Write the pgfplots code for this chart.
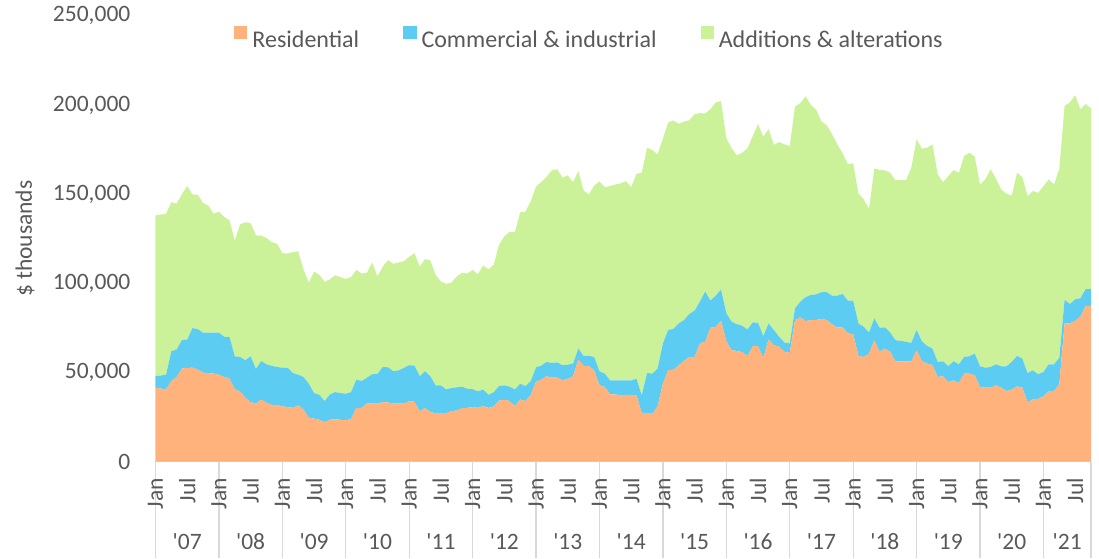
\documentclass[border=0pt]{standalone}
\usepackage{fontspec}
\setmainfont{Carlito}
\usepackage{graphicx}
\usepackage{pgfplots}
\usepackage{pgfplotstable}
\pgfplotsset{compat=1.18}
\definecolor{resC}{HTML}{FFB27B}
\definecolor{comC}{HTML}{5DCCF3}
\definecolor{addC}{HTML}{CCF299}
\definecolor{txtC}{HTML}{595959}
\definecolor{sepC}{HTML}{D9D9D9}
\newcommand\F{\fontsize{23.5pt}{28pt}\selectfont}
\newcommand\FL{\fontsize{24pt}{28pt}\selectfont}
\font\yrF="Carlito" at 23.5pt
\newcommand\Y[1]{{\yrF '#1}}
\newcommand\J{\rotatebox{90}{Jan}}
\newcommand\U{\rotatebox{90}{Jul}}
\pgfplotstableread{
i R C A
0 41.5 6.4 90.2
1 41.0 7.3 90.2
2 40.5 8.3 90.2
3 45.2 16.7 83.6
4 47.5 15.4 81.8
5 52.2 15.9 81.9
6 52.6 15.9 86.0
7 52.7 22.2 74.9
8 51.6 22.7 75.3
9 49.9 22.4 72.7
10 49.7 22.6 71.3
11 49.4 22.9 66.7
12 48.8 23.5 67.9
13 47.5 22.5 67.2
14 46.5 23.5 65.3
15 40.5 18.6 64.9
16 39.4 19.3 74.3
17 35.8 21.1 77.3
18 33.4 25.7 74.7
19 32.5 19.5 74.9
20 34.9 21.6 70.2
21 33.0 21.6 70.8
22 31.9 21.8 69.4
23 31.9 21.2 69.1
24 31.0 21.7 64.2
25 30.6 22.0 64.1
26 30.2 19.5 67.8
27 31.5 17.3 69.2
28 29.3 18.2 60.4
29 24.6 19.1 56.7
30 24.2 14.3 68.1
31 23.5 14.0 67.2
32 22.1 11.9 66.8
33 23.5 14.2 64.6
34 23.8 15.2 65.5
35 23.5 15.0 64.9
36 23.2 14.9 64.4
37 24.0 15.0 64.5
38 30.2 15.8 61.5
39 30.2 15.0 60.3
40 32.8 14.3 58.8
41 32.5 16.5 62.7
42 32.5 16.7 54.6
43 33.4 19.7 56.3
44 33.2 19.7 60.1
45 32.5 18.2 60.2
46 32.5 18.7 60.5
47 32.5 20.1 59.8
48 34.0 20.1 60.8
49 33.6 20.3 63.0
50 28.3 19.6 61.5
51 30.2 20.5 62.9
52 27.8 20.1 64.9
53 27.2 15.6 61.9
54 27.2 15.6 58.2
55 27.2 13.3 59.2
56 28.3 13.0 59.1
57 28.7 13.0 62.1
58 30.0 12.0 63.9
59 30.2 10.7 64.6
60 30.6 10.1 66.8
61 30.2 9.2 65.7
62 31.2 9.3 69.5
63 30.2 7.3 70.4
64 31.0 8.0 71.5
65 34.3 8.1 79.2
66 34.7 8.1 83.5
67 34.0 8.0 86.9
68 31.3 9.2 88.1
69 34.9 8.8 96.1
70 34.0 8.4 97.8
71 37.5 7.7 100.8
72 44.9 8.0 101.4
73 46.0 7.9 102.9
74 47.9 8.0 103.8
75 47.1 8.3 107.9
76 47.1 8.6 108.2
77 45.6 8.5 105.1
78 46.4 8.0 106.1
79 47.9 7.1 101.7
80 57.2 6.2 99.5
81 53.7 5.6 92.7
82 53.7 5.6 90.5
83 51.2 7.5 96.1
84 42.8 7.9 106.4
85 41.9 7.5 104.5
86 37.7 7.9 108.9
87 37.7 7.9 109.8
88 37.2 8.4 110.4
89 37.5 8.1 111.7
90 37.5 8.1 108.3
91 37.2 9.3 114.9
92 27.4 9.8 124.8
93 27.4 22.3 126.3
94 26.8 22.6 125.3
95 31.0 21.2 120.1
96 43.7 22.6 114.8
97 51.2 22.6 116.3
98 51.6 22.9 116.8
99 54.1 23.4 111.9
100 56.5 22.9 111.3
101 58.7 24.1 108.6
102 58.7 26.0 110.1
103 66.3 23.4 105.7
104 67.2 28.2 99.8
105 75.1 15.2 107.3
106 75.6 17.5 108.3
107 79.0 17.5 105.7
108 67.5 15.7 98.2
109 62.5 16.0 97.2
110 62.1 15.0 94.6
111 61.4 14.8 97.0
112 59.1 15.0 101.6
113 64.8 13.3 104.5
114 64.8 13.1 111.3
115 58.2 12.2 111.8
116 68.5 9.0 108.9
117 65.3 8.5 103.8
118 64.4 5.6 109.2
119 61.6 5.2 111.1
120 61.0 5.3 110.7
121 79.4 6.6 113.1
122 80.9 8.8 111.3
123 78.8 13.4 112.6
124 79.4 14.1 106.4
125 79.4 14.4 103.5
126 80.1 14.9 95.7
127 79.4 15.6 93.6
128 77.0 16.1 90.5
129 75.3 17.8 84.8
130 75.3 18.7 78.9
131 71.9 18.4 76.4
132 71.5 18.8 77.0
133 59.3 18.2 72.7
134 58.7 16.9 71.4
135 60.6 11.8 69.3
136 68.1 12.2 84.1
137 61.6 13.5 88.4
138 63.4 11.9 88.0
139 61.6 10.8 89.6
140 56.3 11.8 89.7
141 56.3 11.5 90.0
142 56.3 10.9 90.6
143 56.3 10.3 98.2
144 62.5 11.3 106.9
145 56.3 11.2 108.0
146 55.0 9.9 111.1
147 54.1 9.3 114.5
148 47.5 8.4 105.1
149 47.9 8.4 100.4
150 44.7 8.8 106.6
151 45.6 10.7 107.2
152 44.1 10.5 107.4
153 49.4 9.3 112.7
154 49.4 9.7 114.1
155 48.4 12.2 110.4
156 41.9 11.6 101.9
157 41.5 11.2 105.5
158 41.5 11.6 110.8
159 42.8 11.8 104.2
160 41.5 12.0 99.1
161 39.6 13.9 96.7
162 40.4 15.5 93.3
163 42.2 17.1 102.7
164 41.5 16.3 101.9
165 33.4 16.3 99.1
166 34.9 16.3 100.5
167 35.3 13.7 101.7
168 36.6 13.7 104.2
169 39.6 15.0 103.6
170 39.6 15.0 100.8
171 43.4 14.8 106.0
172 77.5 13.2 108.8
173 77.5 10.9 113.0
174 79.0 12.0 114.5
175 81.3 10.3 106.0
176 87.3 9.5 103.7
177 87.3 9.5 101.2
}\data
\begin{document}
\begin{tikzpicture}
\useasboundingbox (-155.5pt,-96.3pt) rectangle (943.5pt,461.7pt);
\begin{axis}[
  at={(0pt,0pt)}, anchor=south west,
  scale only axis, width=935.5pt, height=446pt,
  xmin=0, xmax=177, ymin=0, ymax=250,
  stack plots=y,
  axis lines*=left,
  x axis line style={draw=sepC, line width=1.3pt},
  y axis line style={draw=none},
  tick align=outside,
  major tick length=0pt,
  minor tick length=96.3pt,
  xtick={0,6,...,174},
  xticklabels={\J,\U,\J,\U,\J,\U,\J,\U,\J,\U,\J,\U,\J,\U,\J,\U,\J,\U,\J,\U,\J,\U,\J,\U,\J,\U,\J,\U,\J,\U},
  minor xtick={0,12,...,168,177},
  minor x tick style={draw=sepC, line width=1.3pt},
  ytick={0,50,...,250},
  yticklabels={0,{50,000},{100,000},{150,000},{200,000},{250,000}},
  ytick style={draw=none},
  xticklabel style={font=\F, text=txtC, anchor=north, inner sep=0pt, yshift=-16pt},
  yticklabel style={font=\F, text=txtC, anchor=east, inner sep=0pt, xshift=-25pt},
  extra x ticks={6,18,30,42,54,66,78,90,102,114,126,138,150,162,172.5},
  extra x tick labels={\Y{07},\Y{08},\Y{09},\Y{10},\Y{11},\Y{12},\Y{13},\Y{14},\Y{15},\Y{16},\Y{17},\Y{18},\Y{19},\Y{20},\Y{21}},
  extra x tick style={major tick length=0pt, xticklabel style={anchor=center, yshift=-64pt}},
  ylabel={\$ thousands},
  ylabel style={font=\F, text=txtC, at={(axis description cs:-0.1395,0.5)}, anchor=center},
  legend image code/.code={\fill[#1] (0pt,0.9pt) rectangle (13.3pt,14.2pt);},
  legend style={at={(0.0839,0.9507)}, anchor=west, draw=none, fill=none, inner sep=0pt,
    legend columns=3, font=\FL, text=txtC,
    nodes={inner sep=0pt},
    /tikz/every odd column/.append style={column sep=5pt},
    /tikz/every even column/.append style={column sep=44pt}},
]
\addplot[fill=resC, draw=none] table[x=i, y=R]{\data} \closedcycle;
\addlegendentry{Residential}
\addplot[fill=comC, draw=none] table[x=i, y=C]{\data} \closedcycle;
\addlegendentry{Commercial \& industrial}
\addplot[fill=addC, draw=none] table[x=i, y=A]{\data} \closedcycle;
\addlegendentry{Additions \& alterations}
\end{axis}
\end{tikzpicture}
\end{document}
